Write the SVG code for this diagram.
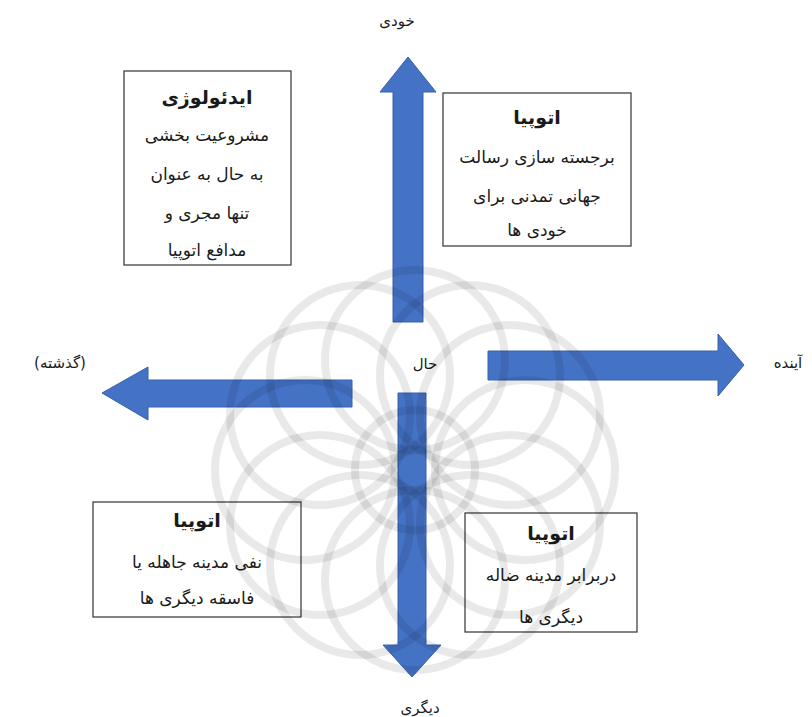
<svg xmlns="http://www.w3.org/2000/svg" width="812" height="717" viewBox="0 0 812 717">
<style>
text{font-family:"DejaVu Sans","Noto Sans",sans-serif;fill:#1a1a1a;text-anchor:middle;direction:rtl}
.t{font-size:19px;font-weight:bold}
.b{font-size:17px}
.l{font-size:15px}
.box{fill:#ffffff;stroke:#333;stroke-width:1.2}
.arr{fill:#4472C4;stroke:#3760ad;stroke-width:1}
.wm{fill:none;stroke:#000;stroke-opacity:0.085;stroke-width:8}
</style>
<rect width="812" height="717" fill="#fff"/>
<g id="connectors">
<polygon class="arr" points="408,57 436,92 423,92 423,322 393,322 393,92 380,92"/>
<polygon class="arr" points="412,677 441,645 426,645 426,393 398,393 398,645 383,645"/>
<polygon class="arr" points="102,393 148,367 148,380 352,380 352,407 148,407 148,420"/>
<polygon class="arr" points="744,365 718,334 718,351 488,351 488,380 718,380 718,396"/>
</g>
<g id="box-ideology">
<rect class="box" x="124" y="71" width="167" height="194"/>
<text class="t" x="207" y="104">ایدئولوژی</text>
<text class="b" x="207" y="141">مشروعیت بخشی</text>
<text class="b" x="207" y="180">به حال به عنوان</text>
<text class="b" x="207" y="219">تنها مجری و</text>
<text class="b" x="207" y="256">مدافع اتوپیا</text>
</g>
<g id="box-utopia-self">
<rect class="box" x="443" y="93" width="188" height="153"/>
<text class="t" x="537" y="124">اتوپیا</text>
<text class="b" x="537" y="163">برجسته سازی رسالت</text>
<text class="b" x="537" y="202">جهانی تمدنی برای</text>
<text class="b" x="537" y="236">خودی ها</text>
</g>
<g id="box-utopia-negate">
<rect class="box" x="93" y="502" width="208" height="115"/>
<text class="t" x="197" y="527">اتوپیا</text>
<text class="b" x="197" y="568">نفی مدینه جاهله یا</text>
<text class="b" x="197" y="604">فاسقه دیگری ها</text>
</g>
<g id="box-utopia-other">
<rect class="box" x="465" y="513" width="172" height="119"/>
<text class="t" x="551" y="540">اتوپیا</text>
<text class="b" x="551" y="581">دربرابر مدینه ضاله</text>
<text class="b" x="551" y="623">دیگری ها</text>
</g>
<g id="label-self"><text class="l" x="397" y="26">خودی</text></g>
<g id="label-past"><text class="l" x="60" y="368">(گذشته)</text></g>
<g id="label-future"><text class="l" x="788" y="368">آینده</text></g>
<g id="label-present"><text class="l" x="425" y="369">حال</text></g>
<g id="label-other"><text class="l" x="420" y="713">دیگری</text></g>
<g id="watermark">
<circle class="wm" cx="415" cy="470" r="60"/>
<g transform="translate(415 470)">
<circle class="wm" cx="0" cy="-110" r="90"/>
<circle class="wm" cx="55" cy="-95" r="90"/>
<circle class="wm" cx="95" cy="-55" r="90"/>
<circle class="wm" cx="110" cy="0" r="90"/>
<circle class="wm" cx="95" cy="55" r="90"/>
<circle class="wm" cx="55" cy="95" r="90"/>
<circle class="wm" cx="0" cy="110" r="90"/>
<circle class="wm" cx="-55" cy="95" r="90"/>
<circle class="wm" cx="-95" cy="55" r="90"/>
<circle class="wm" cx="-110" cy="0" r="90"/>
<circle class="wm" cx="-95" cy="-55" r="90"/>
<circle class="wm" cx="-55" cy="-95" r="90"/>
</g>
</g>
</svg>
